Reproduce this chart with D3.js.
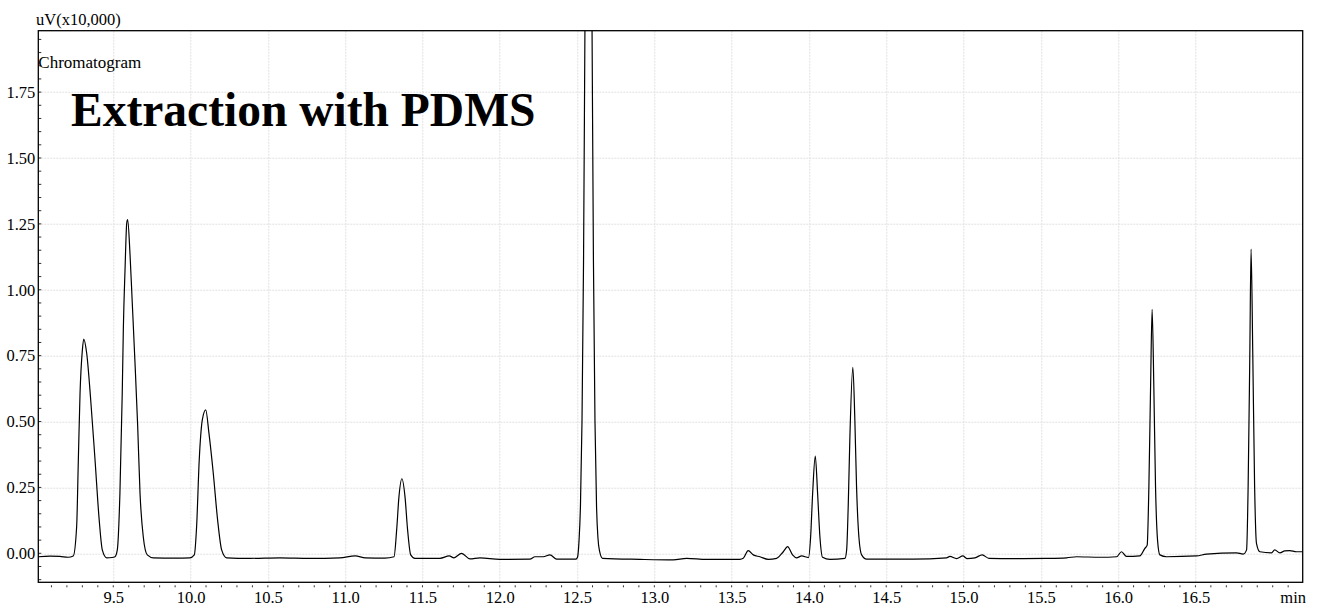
<!DOCTYPE html>
<html>
<head>
<meta charset="utf-8">
<script src="https://cdn.jsdelivr.net/npm/d3@7"></script>
<style>
  html, body { margin: 0; padding: 0; background: #fff; }
  svg { display: block; }
  text { font-family: "Liberation Serif", "Times New Roman", serif; fill: #000; }
</style>
</head>
<body>
<svg id="chart" width="1324" height="610"></svg>
<script>
// Detector trace: retention time (min) and signal (uV x 10,000)
const retentionTime = [
  9.015, 9.091, 9.155, 9.207, 9.241, 9.263, 9.274, 9.285, 9.300, 9.309,
  9.328, 9.354, 9.382, 9.409, 9.429, 9.457, 9.492, 9.511, 9.526, 9.543,
  9.558, 9.565, 9.576, 9.587, 9.593, 9.608, 9.623, 9.640, 9.658, 9.673,
  9.694, 9.720, 9.759, 9.899, 9.996, 10.024, 10.039, 10.056, 10.076, 10.098,
  10.119, 10.147, 10.175, 10.201, 10.233, 10.384, 10.578, 10.772, 10.966, 11.065,
  11.130, 11.257, 11.316, 11.333, 11.348, 11.367, 11.387, 11.404, 11.424, 11.451,
  11.613, 11.673, 11.704, 11.753, 11.807, 11.872, 12.001, 12.195, 12.228, 12.281,
  12.325, 12.368, 12.493, 12.503, 12.513, 12.522, 12.532, 12.542, 12.551, 12.561,
  12.574, 12.587, 12.597, 12.606, 12.616, 12.626, 12.635, 12.645, 12.665, 12.907,
  13.122, 13.209, 13.338, 13.553, 13.575, 13.607, 13.640, 13.683, 13.737, 13.791,
  13.834, 13.862, 13.894, 13.920, 13.953, 13.997, 14.011, 14.024, 14.041, 14.056,
  14.071, 14.088, 14.136, 14.233, 14.244, 14.254, 14.265, 14.284, 14.297, 14.308,
  14.323, 14.341, 14.373, 14.674, 14.890, 14.912, 14.955, 14.996, 15.022, 15.074,
  15.121, 15.164, 15.321, 15.537, 15.667, 15.731, 15.882, 15.990, 16.022, 16.054,
  16.140, 16.173, 16.188, 16.199, 16.210, 16.220, 16.231, 16.242, 16.255, 16.270,
  16.313, 16.507, 16.572, 16.766, 16.809, 16.831, 16.841, 16.852, 16.860, 16.871,
  16.883, 16.895, 16.917, 16.992, 17.013, 17.046, 17.078, 17.110, 17.153, 17.194
];
const signal = [
  -0.013, -0.011, -0.012, -0.015, -0.010, 0.101, 0.354, 0.607, 0.771, 0.813,
  0.759, 0.582, 0.354, 0.126, 0.013, -0.017, -0.016, -0.013, 0.013, 0.228,
  0.607, 0.847, 1.075, 1.252, 1.266, 1.138, 0.948, 0.730, 0.480, 0.228,
  0.063, -0.006, -0.017, -0.018, -0.017, -0.006, 0.101, 0.354, 0.506, 0.544,
  0.455, 0.303, 0.126, 0.013, -0.017, -0.019, -0.017, -0.019, -0.017, -0.010,
  -0.017, -0.018, -0.013, 0.088, 0.215, 0.283, 0.215, 0.088, -0.006, -0.019,
  -0.019, -0.010, -0.017, 0.000, -0.021, -0.017, -0.023, -0.022, -0.013, -0.013,
  -0.006, -0.022, -0.022, -0.015, 0.050, 0.180, 0.500, 1.110, 1.990, 2.910,
  3.500, 2.910, 1.990, 1.110, 0.500, 0.180, 0.060, 0.010, -0.019, -0.023,
  -0.025, -0.019, -0.023, -0.023, -0.019, 0.010, -0.006, -0.013, -0.023, -0.019,
  0.006, 0.025, -0.006, -0.017, -0.010, -0.016, 0.063, 0.228, 0.369, 0.228,
  0.063, -0.015, -0.023, -0.019, 0.013, 0.177, 0.442, 0.706, 0.506, 0.253,
  0.063, -0.006, -0.022, -0.022, -0.017, -0.012, -0.020, -0.010, -0.020, -0.017,
  -0.006, -0.019, -0.020, -0.019, -0.017, -0.013, -0.015, -0.013, 0.006, -0.012,
  -0.010, 0.019, 0.031, 0.253, 0.632, 0.926, 0.632, 0.253, 0.050, -0.006,
  -0.013, -0.010, -0.003, 0.002, -0.003, 0.013, 0.253, 0.759, 1.154, 0.759,
  0.253, 0.038, 0.006, 0.002, 0.013, 0.002, 0.009, 0.010, 0.006, 0.006
];

// Axis ticks
const timeTicks = [9.5, 10.0, 10.5, 11.0, 11.5, 12.0, 12.5, 13.0, 13.5, 14.0, 14.5, 15.0, 15.5, 16.0, 16.5];
const signalTicks = [0.00, 0.25, 0.50, 0.75, 1.00, 1.25, 1.50, 1.75];
const timeDomain = [9.015, 17.194];
const signalDomain = [-0.110, 1.983];

// Labels
const yUnitLabel = "uV(x10,000)";
const xUnitLabel = "min";
const traceName = "Chromatogram";
const titleText = "Extraction with PDMS";

const width = 1324, height = 610;
const margin = { top: 30.7, right: 21.3, bottom: 27.7, left: 38.3 };
const plotW = width - margin.left - margin.right;
const plotH = height - margin.top - margin.bottom;

const svg = d3.select("#chart");
const g = svg.append("g").attr("transform", `translate(${margin.left},${margin.top})`);

const x = d3.scaleLinear().domain(timeDomain).range([0, plotW]);
const y = d3.scaleLinear().domain(signalDomain).range([plotH, 0]);

// Grid
const grid = g.append("g").attr("class", "grid")
  .attr("stroke", "#e0e0e0").attr("stroke-width", 1).attr("stroke-dasharray", "2,1");
grid.selectAll("line.v").data(timeTicks).join("line").attr("class", "v")
  .attr("x1", d => Math.round(x(d)) + 0.5).attr("x2", d => Math.round(x(d)) + 0.5)
  .attr("y1", 0).attr("y2", plotH);
grid.selectAll("line.h").data(signalTicks).join("line").attr("class", "h")
  .attr("y1", d => Math.round(y(d)) + 0.5).attr("y2", d => Math.round(y(d)) + 0.5)
  .attr("x1", 0).attr("x2", plotW);

// Minor tick marks
const minorX = d3.range(91, 172).map(i => i / 10).filter(t => t >= timeDomain[0] && t <= timeDomain[1]);
g.append("g").selectAll("line").data(minorX).join("line")
  .attr("x1", d => x(d)).attr("x2", d => x(d))
  .attr("y1", plotH + 3).attr("y2", plotH + 5)
  .attr("stroke", "#333").attr("stroke-width", 1);
const minorY = d3.range(-2, 40).map(i => i * 0.05).filter(v => v >= signalDomain[0] && v <= signalDomain[1]);
g.append("g").selectAll("line").data(minorY).join("line")
  .attr("x1", 0).attr("x2", 3)
  .attr("y1", d => y(d)).attr("y2", d => y(d))
  .attr("stroke", "#333").attr("stroke-width", 1);

// Axes labels
const xAxis = g.append("g").attr("transform", `translate(0,${plotH})`)
  .call(d3.axisBottom(x).tickValues(timeTicks).tickFormat(d3.format(".1f")).tickSize(0).tickPadding(9));
xAxis.select(".domain").remove();
xAxis.selectAll("text").attr("font-size", 16.5).attr("font-family", "Liberation Serif");

const yAxis = g.append("g")
  .call(d3.axisLeft(y).tickValues(signalTicks).tickFormat(d3.format(".2f")).tickSize(0).tickPadding(3));
yAxis.select(".domain").remove();
yAxis.selectAll("text").attr("font-size", 16.5).attr("font-family", "Liberation Serif");

// Trace
g.append("clipPath").attr("id", "plot-clip")
  .append("rect").attr("x", 0).attr("y", 0).attr("width", plotW).attr("height", plotH);

const points = retentionTime.map((t, i) => [t, signal[i]]);
const line = d3.line().x(d => x(d[0])).y(d => y(d[1])).curve(d3.curveMonotoneX);
g.append("path").datum(points)
  .attr("clip-path", "url(#plot-clip)")
  .attr("fill", "none").attr("stroke", "#000").attr("stroke-width", 1.2)
  .attr("stroke-linejoin", "round")
  .attr("d", line);

// Frame
g.append("rect").attr("x", 0).attr("y", 0).attr("width", plotW).attr("height", plotH)
  .attr("fill", "none").attr("stroke", "#000").attr("stroke-width", 1.3);

// Text
svg.append("text").attr("x", 36).attr("y", 24.5).attr("font-size", 16.5).text(yUnitLabel);
svg.append("text").attr("x", width - 18).attr("y", 603).attr("font-size", 16.5)
  .attr("text-anchor", "end").text(xUnitLabel);
svg.append("text").attr("x", margin.left).attr("y", 68).attr("font-size", 17).text(traceName);
svg.append("text").attr("x", 71).attr("y", 126).attr("font-size", 47.5)
  .attr("font-weight", "bold").text(titleText);
</script>
</body>
</html>
